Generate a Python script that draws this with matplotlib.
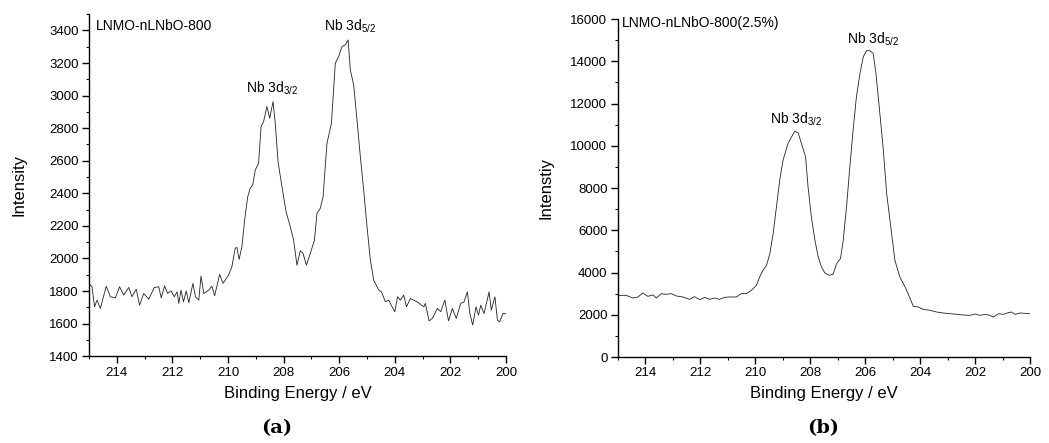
import matplotlib.pyplot as plt
from matplotlib.ticker import MultipleLocator

plt.rcParams['font.family'] = ['Liberation Sans', 'DejaVu Sans']
plt.rcParams['mathtext.fontset'] = 'custom'
plt.rcParams['mathtext.rm'] = 'Liberation Sans'
plt.rcParams['mathtext.it'] = 'Liberation Sans:italic'

# Panel (a): LNMO-nLNbO-800
energy_a = [215.0, 214.89, 214.8, 214.71, 214.59, 214.38, 214.23, 214.05, 213.9, 213.75,
            213.57, 213.45, 213.3, 213.18, 213.03, 212.85, 212.65, 212.49, 212.4, 212.28,
            212.17, 212.05, 211.93, 211.83, 211.77, 211.69, 211.6, 211.5, 211.41, 211.26,
            211.17, 211.05, 210.97, 210.87, 210.69, 210.58, 210.48, 210.3, 210.18, 209.98,
            209.86, 209.74, 209.68, 209.6, 209.5, 209.4, 209.29, 209.2, 209.11, 209.02,
            208.9, 208.81, 208.72, 208.6, 208.5, 208.38, 208.3, 208.2, 208.06, 207.91,
            207.76, 207.64, 207.52, 207.4, 207.3, 207.18, 207.04, 206.89, 206.8, 206.68,
            206.58, 206.44, 206.28, 206.14, 206.02, 205.9, 205.78, 205.68, 205.6, 205.48,
            205.36, 205.24, 205.12, 205.0, 204.88, 204.76, 204.58, 204.48, 204.34, 204.22,
            204.1, 204.0, 203.9, 203.8, 203.68, 203.58, 203.44, 203.2, 202.96, 202.9,
            202.77, 202.65, 202.47, 202.35, 202.2, 202.07, 201.93, 201.79, 201.63, 201.51,
            201.39, 201.3, 201.2, 201.08, 200.99, 200.91, 200.79, 200.61, 200.53, 200.4,
            200.31, 200.23, 200.11, 200.01]
intensity_a = [1847, 1826, 1703, 1744, 1693, 1830, 1765, 1758, 1826, 1775,
               1822, 1765, 1812, 1713, 1785, 1750, 1822, 1826, 1758, 1832,
               1785, 1801, 1765, 1795, 1724, 1806, 1734, 1801, 1728, 1847,
               1765, 1744, 1892, 1785, 1806, 1830, 1771, 1902, 1847, 1898,
               1949, 2062, 2068, 1994, 2072, 2236, 2379, 2431, 2451, 2543,
               2584, 2810, 2840, 2933, 2861, 2963, 2830, 2595, 2441, 2287,
               2195, 2113, 1959, 2047, 2031, 1959, 2031, 2113, 2277, 2308,
               2379, 2707, 2830, 3199, 3240, 3301, 3312, 3342, 3158, 3066,
               2851, 2625, 2420, 2195, 1990, 1867, 1806, 1795, 1734, 1744,
               1703, 1673, 1765, 1744, 1775, 1703, 1754, 1734, 1703, 1724,
               1617, 1632, 1693, 1673, 1744, 1617, 1693, 1632, 1724, 1734,
               1795, 1662, 1591, 1703, 1652, 1713, 1662, 1795, 1683, 1765,
               1621, 1611, 1662, 1660]

# Panel (b): LNMO-nLNbO-800(2.5%)
energy_b = [215.0, 214.7, 214.45, 214.27, 214.09, 213.91, 213.72, 213.6, 213.42, 213.24,
            213.06, 212.87, 212.63, 212.39, 212.21, 212.02, 211.84, 211.66, 211.48, 211.3,
            211.11, 210.93, 210.69, 210.51, 210.32, 210.14, 209.96, 209.84, 209.72, 209.59,
            209.47, 209.35, 209.23, 209.11, 208.99, 208.81, 208.68, 208.56, 208.44, 208.32,
            208.17, 208.08, 207.96, 207.83, 207.71, 207.59, 207.47, 207.31, 207.17, 207.04,
            206.9, 206.8, 206.68, 206.56, 206.44, 206.32, 206.19, 206.07, 205.95, 205.83,
            205.71, 205.61, 205.49, 205.34, 205.22, 205.04, 204.92, 204.74, 204.55, 204.43,
            204.25, 204.07, 203.89, 203.64, 203.4, 203.16, 202.91, 202.67, 202.43, 202.19,
            202.0, 201.82, 201.64, 201.46, 201.34, 201.15, 200.97, 200.79, 200.67, 200.55,
            200.36, 200.0]
intensity_b = [2922, 2922, 2796, 2843, 3033, 2875, 2938, 2796, 3001, 2970,
               3001, 2891, 2843, 2733, 2859, 2717, 2827, 2733, 2796, 2733,
               2827, 2843, 2843, 3001, 3001, 3159, 3396, 3791, 4107, 4344,
               4896, 5844, 7108, 8371, 9319, 10109, 10425, 10693, 10614, 10109,
               9477, 8055, 6634, 5528, 4739, 4265, 3980, 3870, 3917, 4423,
               4660, 5528, 7108, 9003, 10741, 12320, 13426, 14216, 14500, 14500,
               14374, 13426, 11846, 9793, 7740, 5844, 4581, 3791, 3317, 2970,
               2401, 2369, 2259, 2211, 2132, 2085, 2053, 2022, 1990, 1974,
               2038, 1974, 2022, 1974, 1895, 2053, 2022, 2101, 2132, 2022,
               2085, 2053]

fig = plt.figure(figsize=(10.49, 4.43), dpi=100)
ax_a = fig.add_axes([0.0848, 0.196, 0.3976, 0.772])
ax_b = fig.add_axes([0.589, 0.194, 0.393, 0.763])


def style_axis(ax):
    for side in ["top", "right"]:
        ax.spines[side].set_visible(False)
    ax.spines["left"].set_linewidth(1.0)
    ax.spines["bottom"].set_linewidth(1.0)
    ax.tick_params(which="major", direction="out", length=5, width=1, labelsize=9.5, pad=2.5)
    ax.tick_params(which="minor", direction="out", length=2.5, width=0.8)
    ax.set_xlim(215, 200)
    ax.set_xticks([214, 212, 210, 208, 206, 204, 202, 200])
    ax.xaxis.set_minor_locator(MultipleLocator(1))
    ax.set_xlabel("Binding Energy / eV", fontsize=12, labelpad=5)


# (a)
ax_a.plot(energy_a, intensity_a, color="#222222", lw=0.6)
style_axis(ax_a)
ax_a.set_ylim(1400, 3500)
ax_a.set_yticks(range(1400, 3401, 200))
ax_a.yaxis.set_minor_locator(MultipleLocator(100))
ax_a.set_ylabel("Intensity", fontsize=12, labelpad=16)
ax_a.text(214.75, 3430, "LNMO-nLNbO-800", fontsize=10, va="center")
ax_a.text(208.4, 2990, "Nb 3d$_{3/2}$", fontsize=10, ha="center", va="bottom")
ax_a.text(205.6, 3370, "Nb 3d$_{5/2}$", fontsize=10, ha="center", va="bottom")
fig.text(0.264, 0.033, "(a)", fontsize=14, fontweight="bold",
         family="DejaVu Serif", ha="center", va="center")

# (b)
ax_b.plot(energy_b, intensity_b, color="#222222", lw=0.6)
style_axis(ax_b)
ax_b.set_ylim(0, 16000)
ax_b.set_yticks(range(0, 16001, 2000))
ax_b.yaxis.set_minor_locator(MultipleLocator(1000))
ax_b.set_ylabel("Intenstiy", fontsize=12, labelpad=12)
ax_b.text(214.85, 15800, "LNMO-nLNbO-800(2.5%)", fontsize=10, va="center")
ax_b.text(208.5, 10850, "Nb 3d$_{3/2}$", fontsize=10, ha="center", va="bottom")
ax_b.text(205.7, 14650, "Nb 3d$_{5/2}$", fontsize=10, ha="center", va="bottom")
fig.text(0.785, 0.033, "(b)", fontsize=14, fontweight="bold",
         family="DejaVu Serif", ha="center", va="center")

fig.savefig("out.png", dpi=100)
